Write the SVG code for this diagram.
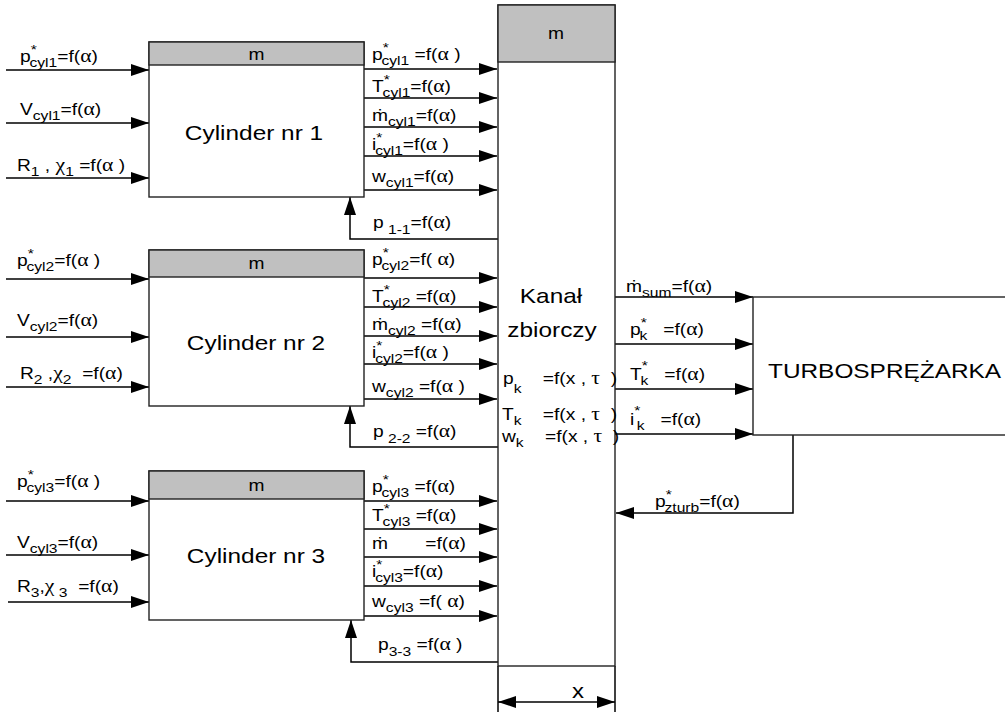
<svg xmlns="http://www.w3.org/2000/svg" width="1005" height="712" viewBox="0 0 1005 712">
<style>
.t{font-family:"Liberation Sans",Arial,"DejaVu Sans",sans-serif;font-size:16px;fill:#000;white-space:pre}
.s{font-size:13px}
.a{font-family:"Liberation Serif","DejaVu Serif",serif;font-size:18px}
.b{font-size:20px}
.box{fill:#fff;stroke:#222;stroke-width:1.4}
.hd{fill:#c0c0c0;stroke:#222;stroke-width:1.4}
.ln{fill:none;stroke:#000;stroke-width:1.5}
.ar{marker-end:url(#ah)}
</style>
<defs>
<marker id="ah" viewBox="0 0 18 12" refX="18" refY="6" markerWidth="18" markerHeight="12" markerUnits="userSpaceOnUse" orient="auto-start-reverse"><path d="M0,0 L18,6 L0,12 z" fill="#000"/></marker>
</defs>
<rect width="1005" height="712" fill="#fff"/>
<g id="connectors">
<line class="ln ar" x1="6" y1="70" x2="149" y2="70"/>
<line class="ln ar" x1="6" y1="123" x2="149" y2="123"/>
<line class="ln ar" x1="6" y1="178" x2="149" y2="178"/>
<line class="ln ar" x1="364" y1="69" x2="497" y2="69"/>
<line class="ln ar" x1="364" y1="98" x2="497" y2="98"/>
<line class="ln ar" x1="364" y1="127" x2="497" y2="127"/>
<line class="ln ar" x1="364" y1="156" x2="497" y2="156"/>
<line class="ln ar" x1="364" y1="190" x2="497" y2="190"/>
<polyline class="ln ar" points="498,239 350,239 350,197"/>
<line class="ln ar" x1="6" y1="279" x2="149" y2="279"/>
<line class="ln ar" x1="6" y1="337" x2="149" y2="337"/>
<line class="ln ar" x1="6" y1="387" x2="149" y2="387"/>
<line class="ln ar" x1="364" y1="278" x2="497" y2="278"/>
<line class="ln ar" x1="364" y1="307" x2="497" y2="307"/>
<line class="ln ar" x1="364" y1="336" x2="497" y2="336"/>
<line class="ln ar" x1="364" y1="364" x2="497" y2="364"/>
<line class="ln ar" x1="364" y1="399" x2="497" y2="399"/>
<polyline class="ln ar" points="498,447 350,447 350,406"/>
<line class="ln ar" x1="6" y1="501" x2="149" y2="501"/>
<line class="ln ar" x1="6" y1="555" x2="149" y2="555"/>
<line class="ln ar" x1="8" y1="602" x2="149" y2="602"/>
<line class="ln ar" x1="364" y1="501" x2="497" y2="501"/>
<line class="ln ar" x1="364" y1="529" x2="497" y2="529"/>
<line class="ln ar" x1="364" y1="557" x2="497" y2="557"/>
<line class="ln ar" x1="364" y1="586" x2="497" y2="586"/>
<line class="ln ar" x1="364" y1="616" x2="497" y2="616"/>
<polyline class="ln ar" points="498,662 351,662 351,620"/>
<line class="ln ar" x1="615" y1="297" x2="753" y2="297"/>
<line class="ln ar" x1="615" y1="344" x2="753" y2="344"/>
<line class="ln ar" x1="615" y1="389" x2="753" y2="389"/>
<line class="ln ar" x1="615" y1="434" x2="753" y2="434"/>
<polyline class="ln ar" points="793,435 793,513 616,513"/>
<line class="ln" x1="498" y1="666" x2="498" y2="712"/>
<line class="ln" x1="615" y1="666" x2="615" y2="712"/>
<line class="ln" x1="498" y1="702" x2="615" y2="702" marker-start="url(#ah)" marker-end="url(#ah)"/>
</g>
<g id="cylinder1">
<rect class="box" x="149" y="42" width="215" height="155"/>
<rect class="hd" x="149" y="42" width="215" height="23"/>
<text class="t" text-anchor="middle" transform="translate(256.5 60) scale(1.2 1)">m</text>
<text class="t b" text-anchor="middle" transform="translate(254 140) scale(1.22 1)">Cylinder nr 1</text>
</g>
<g id="cylinder2">
<rect class="box" x="149" y="250" width="215" height="156"/>
<rect class="hd" x="149" y="250" width="215" height="27"/>
<text class="t" text-anchor="middle" transform="translate(256.5 269) scale(1.2 1)">m</text>
<text class="t b" text-anchor="middle" transform="translate(256 350) scale(1.22 1)">Cylinder nr 2</text>
</g>
<g id="cylinder3">
<rect class="box" x="149" y="471" width="215" height="149"/>
<rect class="hd" x="149" y="471" width="215" height="28"/>
<text class="t" text-anchor="middle" transform="translate(256.5 491) scale(1.2 1)">m</text>
<text class="t b" text-anchor="middle" transform="translate(256 563) scale(1.22 1)">Cylinder nr 3</text>
</g>
<g id="kanal">
<rect class="box" x="498" y="5" width="117" height="661"/>
<rect class="hd" x="498" y="5" width="117" height="57"/>
<text class="t" text-anchor="middle" transform="translate(556 39) scale(1.2 1)">m</text>
<text class="t b" text-anchor="middle" transform="translate(551 303) scale(1.22 1)">Kanał</text>
<text class="t b" text-anchor="middle" transform="translate(552 337) scale(1.22 1)">zbiorczy</text>
<text class="t" transform="translate(503 384) scale(1.2 1)">p<tspan class="s" dy="9">k</tspan><tspan dy="-9">    =f(x , <tspan class="a">τ</tspan>  )</tspan></text>
<text class="t" transform="translate(502 420) scale(1.2 1)">T<tspan class="s" dy="5">k</tspan><tspan dy="-5">    =f(x , <tspan class="a">τ</tspan>  )</tspan></text>
<text class="t" transform="translate(502 442) scale(1.2 1)">w<tspan class="s" dy="5">k</tspan><tspan dy="-5">    =f(x , <tspan class="a">τ</tspan>  )</tspan></text>
</g>
<g id="turbosprezarka">
<rect class="box" x="753" y="297" width="270" height="138"/>
<text class="t b" transform="translate(768 378) scale(1.22 1)">TURBOSPRĘŻARKA</text>
</g>
<g id="labels">
<text class="t" transform="translate(20 62) scale(1.2 1)">p<tspan class="s" dy="-8">*</tspan><tspan class="s" dx="-6" dy="13">cyl1</tspan><tspan dy="-5">=f(<tspan class="a">α</tspan>)</tspan></text>
<text class="t" transform="translate(20 115) scale(1.2 1)">V<tspan class="s" dy="5">cyl1</tspan><tspan dy="-5">=f(<tspan class="a">α</tspan>)</tspan></text>
<text class="t" transform="translate(17 171) scale(1.2 1)">R<tspan class="s" dy="5">1</tspan><tspan dy="-5"> , <tspan class="a">χ</tspan></tspan><tspan class="s" dy="5">1</tspan><tspan dy="-5"> =f(<tspan class="a">α</tspan> )</tspan></text>
<text class="t" transform="translate(372 60) scale(1.2 1)">p<tspan class="s" dy="-8">*</tspan><tspan class="s" dx="-6" dy="13">cyl1</tspan><tspan dy="-5"> =f(<tspan class="a">α</tspan> )</tspan></text>
<text class="t" transform="translate(372 92) scale(1.2 1)">T<tspan class="s" dy="-8">*</tspan><tspan class="s" dx="-6" dy="13">cyl1</tspan><tspan dy="-5">=f(<tspan class="a">α</tspan>)</tspan></text>
<text class="t" transform="translate(372 121) scale(1.2 1)">ṁ<tspan class="s" dy="5">cyl1</tspan><tspan dy="-5">=f(<tspan class="a">α</tspan>)</tspan></text>
<text class="t" transform="translate(372 150) scale(1.2 1)">i<tspan class="s" dy="-8">*</tspan><tspan class="s" dx="-6" dy="13">cyl1</tspan><tspan dy="-5">=f(<tspan class="a">α</tspan> )</tspan></text>
<text class="t" transform="translate(372 182) scale(1.2 1)">w<tspan class="s" dy="5">cyl1</tspan><tspan dy="-5">=f(<tspan class="a">α</tspan>)</tspan></text>
<text class="t" transform="translate(373 228) scale(1.2 1)">p<tspan class="s" dy="6"> 1-1</tspan><tspan dy="-6">=f(<tspan class="a">α</tspan>)</tspan></text>
<text class="t" transform="translate(17 266) scale(1.2 1)">p<tspan class="s" dy="-8">*</tspan><tspan class="s" dx="-6" dy="13">cyl2</tspan><tspan dy="-5">=f(<tspan class="a">α</tspan> )</tspan></text>
<text class="t" transform="translate(17 326) scale(1.2 1)">V<tspan class="s" dy="5">cyl2</tspan><tspan dy="-5">=f(<tspan class="a">α</tspan>)</tspan></text>
<text class="t" transform="translate(20 379) scale(1.2 1)">R<tspan class="s" dy="5">2</tspan><tspan dy="-5"> ,<tspan class="a">χ</tspan></tspan><tspan class="s" dy="5">2</tspan><tspan dy="-5">  =f(<tspan class="a">α</tspan>)</tspan></text>
<text class="t" transform="translate(372 265) scale(1.2 1)">p<tspan class="s" dy="-8">*</tspan><tspan class="s" dx="-6" dy="13">cyl2</tspan><tspan dy="-5">=f( <tspan class="a">α</tspan>)</tspan></text>
<text class="t" transform="translate(372 302) scale(1.2 1)">T<tspan class="s" dy="-8">*</tspan><tspan class="s" dx="-6" dy="13">cyl2</tspan><tspan dy="-5"> =f(<tspan class="a">α</tspan>)</tspan></text>
<text class="t" transform="translate(372 330) scale(1.2 1)">ṁ<tspan class="s" dy="5">cyl2</tspan><tspan dy="-5"> =f(<tspan class="a">α</tspan>)</tspan></text>
<text class="t" transform="translate(372 358) scale(1.2 1)">i<tspan class="s" dy="-8">*</tspan><tspan class="s" dx="-6" dy="13">cyl2</tspan><tspan dy="-5">=f(<tspan class="a">α</tspan> )</tspan></text>
<text class="t" transform="translate(372 392) scale(1.2 1)">w<tspan class="s" dy="5">cyl2</tspan><tspan dy="-5"> =f(<tspan class="a">α</tspan> )</tspan></text>
<text class="t" transform="translate(373 437) scale(1.2 1)">p<tspan class="s" dy="6"> 2-2</tspan><tspan dy="-6"> =f(<tspan class="a">α</tspan>)</tspan></text>
<text class="t" transform="translate(17 487) scale(1.2 1)">p<tspan class="s" dy="-8">*</tspan><tspan class="s" dx="-6" dy="13">cyl3</tspan><tspan dy="-5">=f(<tspan class="a">α</tspan> )</tspan></text>
<text class="t" transform="translate(17 548) scale(1.2 1)">V<tspan class="s" dy="5">cyl3</tspan><tspan dy="-5">=f(<tspan class="a">α</tspan>)</tspan></text>
<text class="t" transform="translate(17 592) scale(1.2 1)">R<tspan class="s" dy="5">3</tspan><tspan dy="-5">,<tspan class="a">χ</tspan></tspan><tspan class="s" dy="5"> 3</tspan><tspan dy="-5">  =f(<tspan class="a">α</tspan>)</tspan></text>
<text class="t" transform="translate(372 492) scale(1.2 1)">p<tspan class="s" dy="-8">*</tspan><tspan class="s" dx="-6" dy="13">cyl3</tspan><tspan dy="-5"> =f(<tspan class="a">α</tspan>)</tspan></text>
<text class="t" transform="translate(372 521) scale(1.2 1)">T<tspan class="s" dy="-8">*</tspan><tspan class="s" dx="-6" dy="13">cyl3</tspan><tspan dy="-5"> =f(<tspan class="a">α</tspan>)</tspan></text>
<text class="t" transform="translate(372 549) scale(1.2 1)">ṁ       =f(<tspan class="a">α</tspan>)</text>
<text class="t" transform="translate(372 577) scale(1.2 1)">i<tspan class="s" dy="-8">*</tspan><tspan class="s" dx="-6" dy="13">cyl3</tspan><tspan dy="-5">=f(<tspan class="a">α</tspan>)</tspan></text>
<text class="t" transform="translate(372 607) scale(1.2 1)">w<tspan class="s" dy="5">cyl3</tspan><tspan dy="-5"> =f( <tspan class="a">α</tspan>)</tspan></text>
<text class="t" transform="translate(378 650) scale(1.2 1)">p<tspan class="s" dy="6">3-3</tspan><tspan dy="-6"> =f(<tspan class="a">α</tspan> )</tspan></text>
<text class="t" transform="translate(626 292) scale(1.2 1)">ṁ<tspan class="s" dy="5">sum</tspan><tspan dy="-5">=f(<tspan class="a">α</tspan>)</tspan></text>
<text class="t" transform="translate(630 335) scale(1.2 1)">p<tspan class="s" dy="-8">*</tspan><tspan class="s" dx="-6" dy="13">k</tspan><tspan dy="-5">   =f(<tspan class="a">α</tspan>)</tspan></text>
<text class="t" transform="translate(630 380) scale(1.2 1)">T<tspan class="s" dy="-10">*</tspan><tspan class="s" dx="-6" dy="15">k</tspan><tspan dy="-5">   =f(<tspan class="a">α</tspan>)</tspan></text>
<text class="t" transform="translate(630 425) scale(1.2 1)">i<tspan class="s" dy="-10">*</tspan><tspan class="s" dx="-3" dy="15">k</tspan><tspan dy="-5">   =f(<tspan class="a">α</tspan>)</tspan></text>
<text class="t" transform="translate(655 507) scale(1.2 1)">p<tspan class="s" dy="-8">*</tspan><tspan class="s" dx="-6" dy="13">zturb</tspan><tspan dy="-5">=f(<tspan class="a">α</tspan>)</tspan></text>
<text class="t b" text-anchor="middle" transform="translate(578 698) scale(1.2 1)">x</text>
</g>
</svg>
